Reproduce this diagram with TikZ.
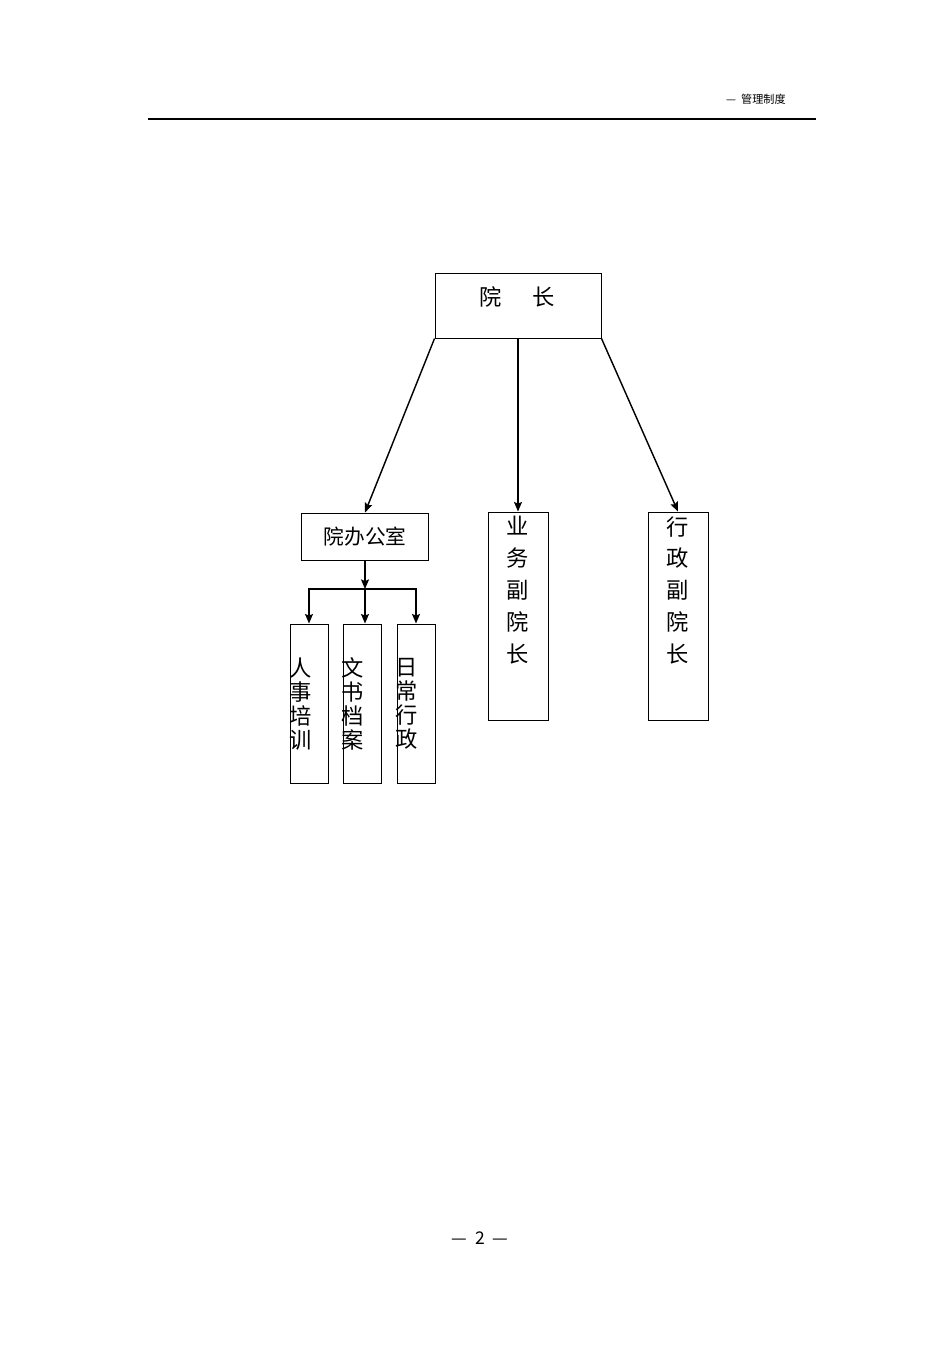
\documentclass[tikz,border=0pt]{standalone}
\usepackage{fontspec}
\newfontfamily\cjk{Noto Sans CJK SC}
\usetikzlibrary{arrows.meta}
\newcommand\pxu{0.0221cm}

\begin{document}
\begin{tikzpicture}[x=0.0221cm,y=-0.0221cm,>={Stealth[length=6pt,width=5pt,inset=1pt]},
  box/.style={draw,line width=0.6pt,inner sep=0pt},
  word/.style={font=\cjk\fontsize{14pt}{15pt}\selectfont,align=center,inner sep=0pt},
  tallword/.style={font=\cjk\fontsize{14pt}{20pt}\selectfont,align=center,inner sep=0pt,anchor=north},
  link/.style={->,line width=0.9pt}]
            \useasboundingbox (0,0) rectangle (950,1345);
            % header
            \draw[line width=0.7pt] (148,119)--(816,119);
            \node[anchor=east,inner sep=0pt,font=\cjk\fontsize{7pt}{8pt}\selectfont] (head) at (786,99) {— \ 管理制度};
            % boxes
            \node[box,minimum width=166*\pxu,minimum height=65*\pxu] (dean) at (518,305.5) {};
            \node[word] (deantext) at (517,297) {院\hspace{1.35em}长};
            \node[box,minimum width=127*\pxu,minimum height=47*\pxu,font=\cjk\fontsize{13pt}{15pt}\selectfont] (office) at (365,536.5) {院办公室};
            \node[box,minimum width=60*\pxu,minimum height=208*\pxu] (bus) at (518,616) {};
            \node[tallword] (bustext) at (518,516) {业\\务\\副\\院\\长};
            \node[box,minimum width=60*\pxu,minimum height=208*\pxu] (adm) at (678,616) {};
            \node[tallword] (admtext) at (678,516) {行\\政\\副\\院\\长};
            \node[box,minimum width=38*\pxu,minimum height=159*\pxu] (hr) at (309,703.5) {};
            \node[word] (hrtext) at (301,704) {人\\事\\培\\训};
            \node[box,minimum width=38*\pxu,minimum height=159*\pxu] (doc) at (362,703.5) {};
            \node[word] (doctext) at (353,704) {文\\书\\档\\案};
            \node[box,minimum width=38*\pxu,minimum height=159*\pxu] (daily) at (416,703.5) {};
            \node[word] (dailytext) at (407,704) {日\\常\\行\\政};
            \coordinate (fork) at (365,589);
            % connectors
            \draw[link] (dean.south west)--(office.north);
            \draw[link] (dean.south)--(bus.north);
            \draw[link] (dean.south east)--(adm.north);
            \draw[link] (office.south)--(fork);
            \draw[link] (fork)-|(hr.north);
            \draw[link] (fork)--(fork|-doc.north);
            \draw[link] (fork)-|(daily.north);
            % page number
            \node[inner sep=0pt,font=\cjk\fontsize{11pt}{12pt}\selectfont] (page) at (480,1238) {— \ 2 \ —};
        \end{tikzpicture}
\end{document}
